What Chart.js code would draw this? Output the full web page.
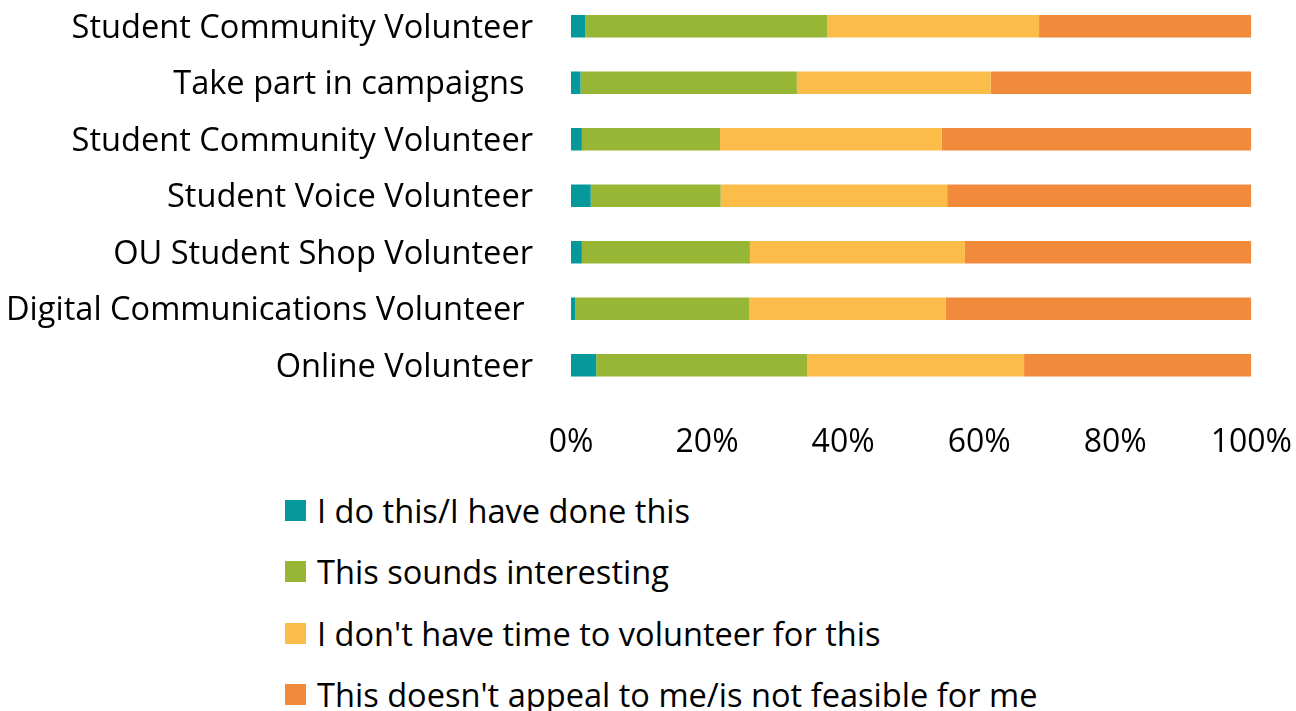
<!DOCTYPE html>
<html>
<head>
<meta charset="utf-8">
<script src="https://cdn.jsdelivr.net/npm/chart.js@4.4.1/dist/chart.umd.min.js"></script>
<style>
    body { margin: 0; background: #ffffff; width: 1296px; height: 711px; overflow: hidden; position: relative; }
    #chart { position: absolute; left: 0; top: -2px; }
    #legend { position: absolute; left: 285px; top: 480px; font-family: "Open Sans", sans-serif; font-size: 32.6px; color: #000; }
    .legend-item { display: flex; align-items: center; height: 61.3px; white-space: nowrap; }
    .legend-box { width: 21px; height: 21px; margin-right: 11px; flex: none; }
</style>
</head>
<body>
<canvas id="chart" width="1296" height="480"></canvas>
<div id="legend"></div>
<script>
// Chart data
const categories = [
    'Student Community Volunteer',
    'Take part in campaigns ',
    'Student Community Volunteer',
    'Student Voice Volunteer',
    'OU Student Shop Volunteer',
    'Digital Communications Volunteer ',
    'Online Volunteer'
];
const seriesNames = [
    'I do this/I have done this',
    'This sounds interesting',
    "I don't have time to volunteer for this",
    "This doesn't appeal to me/is not feasible for me"
];
const doneThis = [2.1, 1.4, 1.6, 2.9, 1.6, 0.6, 3.7];
const soundsInteresting = [35.6, 31.8, 20.3, 19.1, 24.7, 25.6, 31.0];
const noTime = [31.1, 28.5, 32.6, 33.3, 31.6, 28.9, 31.9];
const notAppealing = [31.2, 38.3, 45.5, 44.7, 42.1, 44.9, 33.4];
const tickLabels = ['0%', '20%', '40%', '60%', '80%', '100%'];
const colors = ['#06999c', '#97b635', '#fbbc4a', '#f28a3c'];

const fontFamily = '"Open Sans", sans-serif';
const seriesValues = [doneThis, soundsInteresting, noTime, notAppealing];

// Build the datasets from the arrays above
const datasets = seriesNames.map((name, i) => {
    return {
        label: name,
        data: seriesValues[i],
        backgroundColor: colors[i],
        borderWidth: 0,
        barPercentage: 0.8,
        categoryPercentage: 0.5
    };
});

const ctx = document.getElementById('chart').getContext('2d');

window.chart = new Chart(ctx, {
    type: 'bar',
    data: {
        labels: categories,
        datasets: datasets
    },
    options: {
        indexAxis: 'y',
        responsive: false,
        animation: false,
        layout: {
            padding: { left: 0, right: 44.7, top: 0, bottom: 0 }
        },
        plugins: {
            legend: { display: false },
            tooltip: { enabled: false }
        },
        scales: {
            x: {
                stacked: true,
                min: 0,
                max: 100,
                grid: { display: false, drawTicks: false },
                border: { display: false },
                ticks: {
                    stepSize: 20,
                    padding: 30,
                    maxRotation: 0,
                    color: '#000',
                    font: { family: fontFamily, size: 32 },
                    callback: function(value, index) {
                        return tickLabels[index];
                    }
                },
                afterFit: function(scale) {
                    // fixed axis height, and no extra side padding for the end labels
                    scale.height = 84.5;
                    scale.paddingLeft = 0;
                    scale.paddingRight = 0;
                }
            },
            y: {
                stacked: true,
                grid: { display: false, drawTicks: false },
                border: { display: false },
                ticks: {
                    padding: 38,
                    labelOffset: 2,
                    color: '#000',
                    font: { family: fontFamily, size: 32.6 }
                },
                afterFit: function(scale) {
                    scale.width = 571;
                    scale.paddingTop = 0;
                    scale.paddingBottom = 0;
                }
            }
        }
    }
});

// Legend as a vertical list, built from the chart's datasets
function renderLegend() {
    const legend = document.getElementById('legend');
    legend.innerHTML = '';
    window.chart.data.datasets.forEach(ds => {
        const item = document.createElement('div');
        item.className = 'legend-item';
        item.innerHTML = `<span class="legend-box" style="background:${ds.backgroundColor}"></span><span>${ds.label}</span>`;
        legend.appendChild(item);
    });
}

renderLegend();
</script>
</body>
</html>
